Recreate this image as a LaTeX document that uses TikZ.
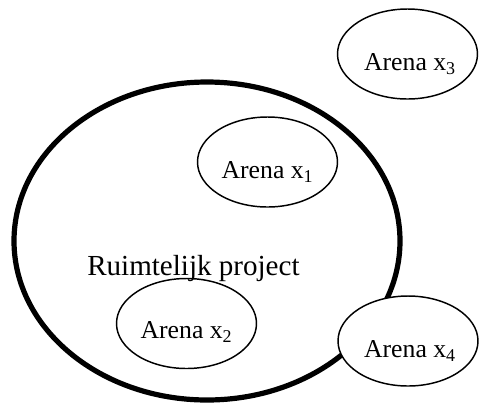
\documentclass[tikz,border=0pt]{standalone}
\usepackage{fontspec}
\setmainfont{Liberation Serif}
\usetikzlibrary{shapes.geometric}
\tikzset{
  arena/.style={ellipse, draw=black, line width=1.1pt, fill=white,
    minimum width=105pt, minimum height=67.5pt, inner sep=0pt},
  arenatext/.style={anchor=base, inner sep=0pt, font=\fontsize{19.3pt}{22pt}\selectfont},
  project/.style={ellipse, draw=black, line width=3.9pt,
    minimum width=289.5pt, minimum height=238.5pt, inner sep=0pt},
  projecttext/.style={anchor=base west, inner sep=0pt, font=\fontsize{21.8pt}{25pt}\selectfont}
}
\begin{document}
\begin{tikzpicture}[x=0.75pt,y=-0.75pt]
  \useasboundingbox (0,0) rectangle (479,405);
  % spatial project
  \node[project] (rp) at (207,241) {};
  % arenas
  \node[arena] (a1) at (267.5,162) {};
  \node[arena] (a2) at (186.5,323.5) {};
  \node[arena] (a3) at (407.5,54) {};
  \node[arena] (a4) at (408,341) {};
  \node[arenatext] (t1) at (267.5,178) {Arena x\textsubscript{1}};
  \node[arenatext] (t2) at (186.5,338) {Arena x\textsubscript{2}};
  \node[arenatext] (t3) at (410,70) {Arena x\textsubscript{3}};
  \node[arenatext] (t4) at (410,357) {Arena x\textsubscript{4}};
  \node[projecttext] (rt) at (87,275) {Ruimtelijk project};
\end{tikzpicture}
\end{document}
